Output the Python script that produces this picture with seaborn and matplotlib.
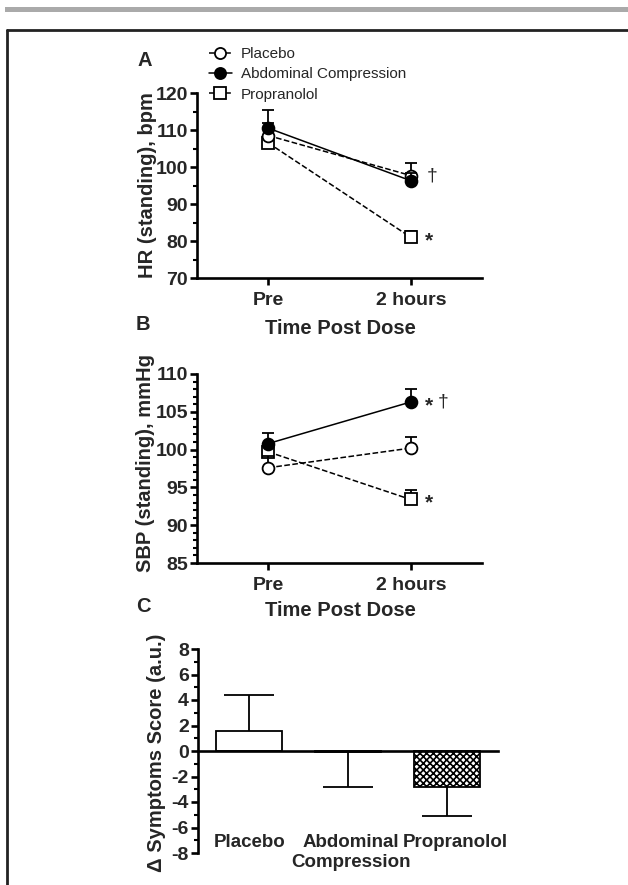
import numpy as np
import pandas as pd
import matplotlib
matplotlib.use("Agg")
import matplotlib.pyplot as plt
import matplotlib.transforms as mtransforms
from matplotlib.lines import Line2D
from matplotlib.patches import Rectangle
from matplotlib.ticker import MultipleLocator
import seaborn as sns

# ---------------- data ----------------
times = ["Pre", "2 hours"]
groups = ["Placebo", "Abdominal Compression", "Propranolol"]

hr_placebo = [108.5, 97.7]
hr_placebo_err = [3.5, 3.5]
hr_abdominal = [110.5, 96.3]
hr_abdominal_err = [4.8, 2.2]
hr_propranolol = [106.5, 81.0]
hr_propranolol_err = [2.0, 1.8]

sbp_placebo = [97.6, 100.2]
sbp_placebo_err = [1.5, 1.5]
sbp_abdominal = [100.8, 106.3]
sbp_abdominal_err = [1.4, 1.7]
sbp_propranolol = [99.7, 93.4]
sbp_propranolol_err = [1.0, 1.3]

sym_categories = ["Placebo", "Abdominal\nCompression", "Propranolol"]
sym_values = [1.6, -0.1, -2.8]
sym_err = [2.8, 2.7, 2.3]

# ---------------- style ----------------
sns.set_theme(style="ticks")
plt.rcParams["font.family"] = ["Liberation Sans", "DejaVu Sans"]
plt.rcParams["hatch.color"] = "black"
plt.rcParams["hatch.linewidth"] = 1.2
plt.rcParams["axes.unicode_minus"] = False

TICK_FS = 14
LABEL_FS = 14.5

W, H = 628, 885
fig = plt.figure(figsize=(W / 100, H / 100), dpi=100)


def ax_rect(l, t, r, b):
    return [l / W, 1 - b / H, (r - l) / W, (b - t) / H]


axA = fig.add_axes(ax_rect(197, 93, 482, 278))
axB = fig.add_axes(ax_rect(197, 374, 482, 563))
axC = fig.add_axes(ax_rect(198, 649, 498, 853))

styles = {
    "Placebo": dict(marker="o", mfc="white", ls="--", ms=8.5),
    "Abdominal Compression": dict(marker="o", mfc="black", ls="-", ms=8.5),
    "Propranolol": dict(marker="s", mfc="white", ls="--", ms=8.5),
}
draw_order = ["Propranolol", "Placebo", "Abdominal Compression"]


def one_sided_err(ax, x, y, err, direction, capsize, z):
    x = np.asarray(x, float)
    y = np.asarray(y, float)
    err = np.asarray(err, float)
    zeros = np.zeros_like(err)
    if direction > 0:
        yerr = [zeros, err]
    else:
        yerr = [err, zeros]
    cont = ax.errorbar(x, y, yerr=yerr, fmt="none", ecolor="black",
                       elinewidth=1.3, capsize=capsize, capthick=1.3, zorder=z)
    for cl in cont[1]:
        if np.allclose(cl.get_ydata(), y):
            cl.set_visible(False)


def line_panel(ax, series, errs):
    rows = []
    for g in groups:
        for i, t in enumerate(times):
            rows.append(dict(group=g, time=i, value=series[g][i]))
    df = pd.DataFrame(rows)
    z = 3
    for g in draw_order:
        st = styles[g]
        d = df[df.group == g]
        one_sided_err(ax, d.time, d.value, errs[g], 1, 4, z)
        sns.lineplot(data=d, x="time", y="value", ax=ax, color="black",
                     lw=1.1, linestyle=st["ls"], marker=st["marker"],
                     markerfacecolor=st["mfc"], markeredgecolor="black",
                     markeredgewidth=1.3, markersize=st["ms"], zorder=z + 1,
                     dashes=False if st["ls"] == "-" else (3.5, 2.5))
        z += 2
    ax.set_xlim(-0.5, 1.5)
    ax.set_xticks([0, 1])
    ax.set_xticklabels(times)


def style_axis(ax):
    for s in ["top", "right"]:
        ax.spines[s].set_visible(False)
    for s in ["left", "bottom"]:
        ax.spines[s].set_linewidth(1.9)
        ax.spines[s].set_color("black")
    ax.tick_params(axis="both", which="major", width=1.9, length=5,
                   color="black", labelsize=TICK_FS, pad=1.5)
    ax.tick_params(axis="both", which="minor", width=1.5, length=3, color="black")
    for lab in ax.get_xticklabels() + ax.get_yticklabels():
        lab.set_fontweight("bold")
    ax.set_facecolor("none")


# ---------------- Panel A ----------------
line_panel(axA,
           {"Placebo": hr_placebo, "Abdominal Compression": hr_abdominal,
            "Propranolol": hr_propranolol},
           {"Placebo": hr_placebo_err, "Abdominal Compression": hr_abdominal_err,
            "Propranolol": hr_propranolol_err})
axA.set_ylim(70, 120)
axA.yaxis.set_major_locator(MultipleLocator(10))
axA.yaxis.set_minor_locator(MultipleLocator(5))
style_axis(axA)
axA.tick_params(axis="x", pad=5)
axA.set_ylabel("HR (standing), bpm", fontsize=LABEL_FS, fontweight="bold")
axA.set_xlabel("Time Post Dose", fontsize=LABEL_FS, fontweight="bold")
axA.yaxis.set_label_coords(-0.14, 0.5)
axA.xaxis.set_label_coords(0.505, -0.22)
axA.text(1.11, hr_placebo[1], "†", fontsize=14, va="center", ha="left")
axA.text(1.1, hr_propranolol[1] - 1.0, "*", fontsize=15, va="center", ha="left",
         fontweight="bold")

# ---------------- Panel B ----------------
line_panel(axB,
           {"Placebo": sbp_placebo, "Abdominal Compression": sbp_abdominal,
            "Propranolol": sbp_propranolol},
           {"Placebo": sbp_placebo_err, "Abdominal Compression": sbp_abdominal_err,
            "Propranolol": sbp_propranolol_err})
axB.set_ylim(85, 110)
axB.yaxis.set_major_locator(MultipleLocator(5))
axB.yaxis.set_minor_locator(MultipleLocator(1))
style_axis(axB)
axB.tick_params(axis="x", pad=5)
axB.set_ylabel("SBP (standing), mmHg", fontsize=LABEL_FS, fontweight="bold")
axB.set_xlabel("Time Post Dose", fontsize=LABEL_FS, fontweight="bold")
axB.yaxis.set_label_coords(-0.148, 0.53)
axB.xaxis.set_label_coords(0.505, -0.2)
axB.text(1.1, sbp_abdominal[1] - 0.5, "*", fontsize=15, va="center", ha="left",
         fontweight="bold")
axB.text(1.19, sbp_abdominal[1], "†", fontsize=14, va="center", ha="left")
axB.text(1.1, sbp_propranolol[1] - 0.5, "*", fontsize=15, va="center", ha="left",
         fontweight="bold")

# ---------------- Panel C ----------------
dfC = pd.DataFrame(dict(group=sym_categories, value=sym_values))
sns.barplot(data=dfC, x="group", y="value", ax=axC, color="white",
            edgecolor="black", linewidth=1.3, width=0.66, errorbar=None,
            saturation=1)
bars = axC.patches
for p in bars:
    p.set_facecolor("white")
    p.set_edgecolor("black")
    p.set_zorder(2)
bars[2].set_hatch("xxxxx")
dirs = [1 if v >= 0 else -1 for v in sym_values]
for i, (v, e, d) in enumerate(zip(sym_values, sym_err, dirs)):
    one_sided_err(axC, [i], [v], [e], d, 18, 1)
axC.set_xlim(-0.515, 2.515)
axC.set_ylim(-8, 8)
axC.yaxis.set_major_locator(MultipleLocator(2))
axC.yaxis.set_minor_locator(MultipleLocator(1))
style_axis(axC)
axC.spines["bottom"].set_position(("data", 0))
axC.spines["bottom"].set_zorder(5)
axC.tick_params(axis="x", length=0, pad=60)
axC.set_xlabel("")
axC.set_ylabel("Δ Symptoms Score (a.u.)", fontsize=LABEL_FS, fontweight="bold")
axC.yaxis.set_label_coords(-0.108, 0.49)
offsets_px = [1, 3, 8]
for lab, dx in zip(axC.get_xticklabels(), offsets_px):
    lab.set_fontsize(13.5)
    lab.set_fontweight("bold")
    lab.set_linespacing(1.2)
    lab.set_transform(lab.get_transform() +
                      mtransforms.ScaledTranslation(dx / 100, 0, fig.dpi_scale_trans))

# ---------------- legend ----------------
handles = [Line2D([0], [0], color="black", lw=1.1, ls=styles[g]["ls"],
                  marker=styles[g]["marker"], mfc=styles[g]["mfc"], mec="black",
                  mew=1.3, ms=8) for g in groups]
fig.legend(handles, groups, loc="upper left",
           bbox_to_anchor=(209 / W, 1 - 47 / H), frameon=False, fontsize=11,
           handlelength=1.5, handletextpad=0.6, labelspacing=0.42,
           borderpad=0, borderaxespad=0)

# ---------------- panel letters ----------------
for letter, (x, y) in {"A": (145, 61), "B": (143, 325), "C": (143, 606)}.items():
    fig.text(x / W, 1 - y / H, letter, fontsize=14.5, fontweight="bold",
             ha="center", va="center")

# ---------------- frame decorations ----------------
fig.add_artist(Rectangle((5 / W, 1 - 12 / H), (W - 5) / W, 5 / H,
                         transform=fig.transFigure, color="#aaaaaa", lw=0))
fig.add_artist(Line2D([7 / W, 1.0], [1 - 30 / H, 1 - 30 / H],
                      transform=fig.transFigure, color="#222222", lw=2))
fig.add_artist(Line2D([7 / W, 7 / W], [1 - 30 / H, 0.0],
                      transform=fig.transFigure, color="#222222", lw=2))

fig.savefig("out.png", dpi=100)
